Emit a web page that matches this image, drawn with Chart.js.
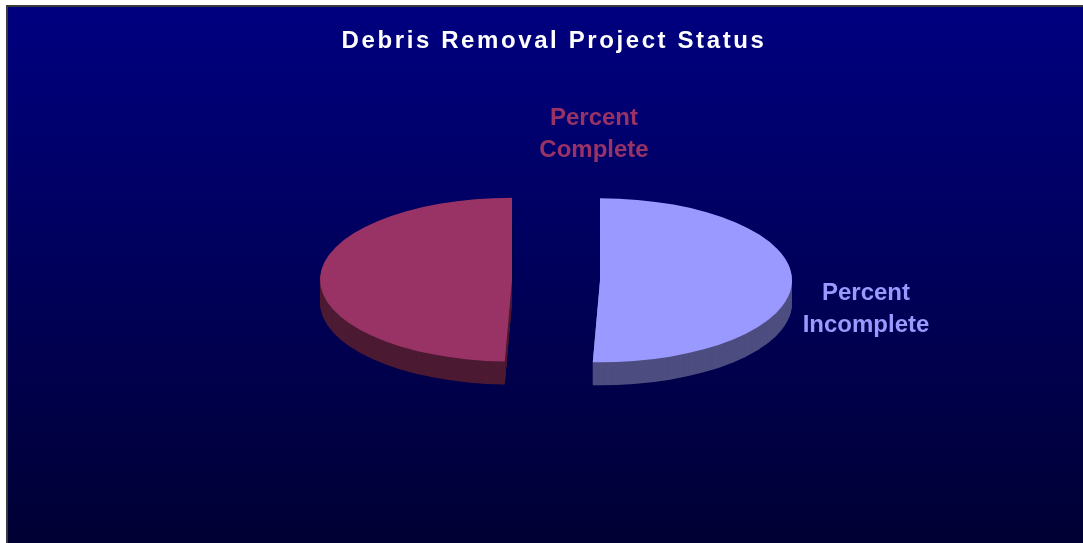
<!DOCTYPE html>
<html>
<head>
<meta charset="utf-8">
<title>Debris Removal Project Status</title>
<script src="https://cdn.jsdelivr.net/npm/chart.js@4.4.0/dist/chart.umd.min.js"></script>
<style>
  html, body { margin: 0; padding: 0; background: #fff; }
  #chart { display: block; }
</style>
</head>
<body>
<canvas id="chart" width="1083" height="543"></canvas>
<script>
const chartTitle = 'Debris Removal Project Status';
const categories = ['Percent Complete', 'Percent Incomplete'];
const percentValues = [49.4, 50.6];
const sliceColors = ['#993366', '#9999ff'];
const sideColors = ['#4d1a33', '#4d4d80'];

// Chart.js draws a flat pie, the plugin squashes it into an ellipse
const tilt = 0.427;
const depth = 23;
const explode = 44;
const pieCenter = { x: 556, y: 280 };
const labelFont = 'bold 24px "Liberation Sans", Arial, sans-serif';
const labelSpots = [{ x: 594, y: 125 }, { x: 866, y: 300 }];

const total = percentValues.reduce((a, b) => a + b, 0);

function squash(ctx, arc, dy) {
  const mid = (arc.startAngle + arc.endAngle) / 2;
  ctx.translate(pieCenter.x, pieCenter.y + dy);
  ctx.scale(1, tilt);
  ctx.translate(Math.cos(mid) * explode - arc.x, Math.sin(mid) * explode - arc.y);
}

const backdrop = {
  id: 'backdrop',
  beforeDraw(chart) {
    const { ctx, width, height } = chart;
    ctx.save();
    ctx.fillStyle = '#fff';
    ctx.fillRect(0, 0, width, height);
    const grad = ctx.createLinearGradient(0, 6, 0, height);
    grad.addColorStop(0, '#000080');
    grad.addColorStop(1, '#000034');
    ctx.fillStyle = grad;
    ctx.fillRect(7, 6, width - 7, height - 6);
    ctx.strokeStyle = '#3a3a3a';
    ctx.lineWidth = 2;
    ctx.beginPath();
    ctx.moveTo(7, height);
    ctx.lineTo(7, 6);
    ctx.lineTo(width, 6);
    ctx.stroke();
    ctx.restore();
  }
};

const tilted3d = {
  id: 'tilted3d',
  beforeDatasetsDraw(chart) {
    const ctx = chart.ctx;
    const arcs = chart.getDatasetMeta(0).data;
    // stack darker copies downwards to get the side of the disc
    for (let d = depth; d > 0; d--) {
      arcs.forEach((arc, i) => {
        ctx.save();
        squash(ctx, arc, d);
        const opts = arc.options;
        arc.options = Object.assign({}, opts, { backgroundColor: sideColors[i] });
        arc.draw(ctx);
        arc.options = opts;
        ctx.restore();
      });
    }
  },
  beforeDatasetDraw(chart) {
    // top faces: each arc gets its own shift, so draw them here and skip the default pass
    const ctx = chart.ctx;
    chart.getDatasetMeta(0).data.forEach(arc => {
      ctx.save();
      squash(ctx, arc, 0);
      arc.draw(ctx);
      ctx.restore();
    });
    return false;
  }
};

const labelText = {
  id: 'labelText',
  afterDraw(chart) {
    const ctx = chart.ctx;
    ctx.save();
    ctx.textAlign = 'center';
    ctx.textBaseline = 'alphabetic';
    ctx.font = labelFont;
    ctx.fillStyle = '#ffffff';
    ctx.letterSpacing = '2.6px';
    ctx.fillText(chartTitle, 554, 48);
    ctx.letterSpacing = '0px';
    categories.forEach((name, i) => {
      ctx.fillStyle = sliceColors[i];
      name.split(' ').forEach((word, j) => {
        ctx.fillText(word, labelSpots[i].x, labelSpots[i].y + j * 32);
      });
    });
    ctx.restore();
  }
};

new Chart(document.getElementById('chart'), {
  type: 'pie',
  data: {
    labels: categories,
    datasets: [{
      data: percentValues,
      backgroundColor: sliceColors,
      borderWidth: 0,
      clip: false
    }]
  },
  options: {
    responsive: false,
    animation: false,
    events: [],
    radius: 192,
    rotation: 360 - percentValues[0] / total * 360,
    layout: { padding: 0 },
    plugins: {
      legend: { display: false },
      title: { display: false },
      tooltip: { enabled: false }
    }
  },
  plugins: [backdrop, tilted3d, labelText]
});
</script>
</body>
</html>
